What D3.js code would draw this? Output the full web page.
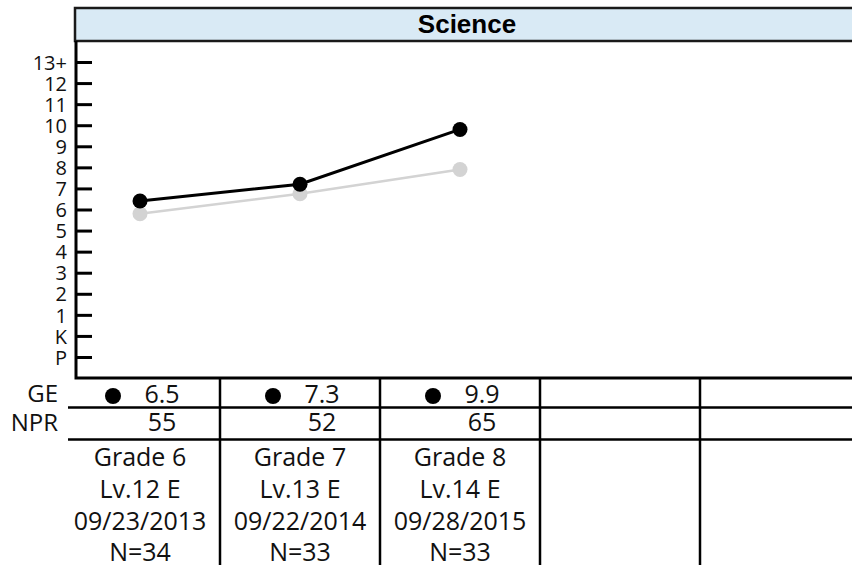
<!DOCTYPE html>
<html>
<head>
    <meta charset="utf-8" />
    <title>Science</title>
    <style>
        body { margin: 0; background: #ffffff; }
        svg { display: block; }
        .lbl { font-family: 'Open Sans', sans-serif; fill: #111111; }
        .ticks text { font-family: 'Open Sans', sans-serif; font-size: 20px; fill: #111111; }
        .ticks line { stroke: #000000; stroke-width: 3px; }
        .rule { stroke: #000000; stroke-width: 2.5px; }
    </style>
    <script src="https://cdn.jsdelivr.net/npm/d3@7"></script>
</head>
<body>
    <svg width="852" height="565"></svg>

    <script>
        var title = 'Science';
        var yTickValues = [-1, 0, 1, 2, 3, 4, 5, 6, 7, 8, 9, 10, 11, 12, 13];
        var yTickLabels = ['P', 'K', '1', '2', '3', '4', '5', '6', '7', '8', '9', '10', '11', '12', '13+'];

        var columns = [0, 1, 2, 3, 4];
        var studentGE = [6.4, 7.2, 9.8];     // black line
        var nationalGE = [5.8, 6.75, 7.9];   // grey line
        var geLabels = ['6.5', '7.3', '9.9'];
        var nprLabels = ['55', '52', '65'];
        var grades = ['Grade 6', 'Grade 7', 'Grade 8'];
        var levels = ['Lv.12 E', 'Lv.13 E', 'Lv.14 E'];
        var dates = ['09/23/2013', '09/22/2014', '09/28/2015'];
        var counts = ['N=34', 'N=33', 'N=33'];

        var svg = d3.select('svg');

        var x = d3.scaleBand().domain(columns).range([60, 860]);
        var cx = function(i) { return x(i) + x.bandwidth() / 2; };
        var y = d3.scaleLinear().domain([-1, 13]).range([357, 62]);

        var plotLeft = 76, plotTop = 41, plotBottom = 378;

        // header
        svg.append('rect')
            .attr('x', 75).attr('y', 8)
            .attr('width', 800).attr('height', 33)
            .attr('fill', '#d9eaf5')
            .attr('stroke', '#1a1a1a').attr('stroke-width', 2.5);
        svg.append('text')
            .attr('x', 467).attr('y', 33)
            .attr('text-anchor', 'middle')
            .style('font-family', "'Liberation Sans', Arial, sans-serif")
            .style('font-weight', 'bold').style('font-size', '26px')
            .text(title);

        // y axis
        var yAxis = d3.axisLeft(y)
            .tickValues(yTickValues)
            .tickFormat(function(d, i) { return yTickLabels[i]; })
            .tickSize(-16)
            .tickSizeOuter(0)
            .tickPadding(9);

        var axisG = svg.append('g')
            .attr('class', 'ticks')
            .attr('transform', 'translate(' + plotLeft + ',0)')
            .call(yAxis);
        axisG.select('.domain').remove();
        axisG.selectAll('text').attr('dy', '0.36em');

        // plot frame (left + bottom)
        svg.append('path')
            .attr('d', 'M' + plotLeft + ',' + plotTop + 'V' + plotBottom + 'H860')
            .attr('fill', 'none')
            .attr('stroke', '#000').attr('stroke-width', 3);

        // lines
        var line = d3.line()
            .x(function(d, i) { return cx(i); })
            .y(function(d) { return y(d); });

        svg.append('path').datum(nationalGE)
            .attr('d', line)
            .attr('fill', 'none').attr('stroke', '#d3d3d3').attr('stroke-width', 2.5);
        svg.selectAll('.natdot').data(nationalGE).enter().append('circle')
            .attr('class', 'natdot')
            .attr('cx', function(d, i) { return cx(i); })
            .attr('cy', y).attr('r', 7.5)
            .attr('fill', '#d3d3d3');

        svg.append('path').datum(studentGE)
            .attr('d', line)
            .attr('fill', 'none').attr('stroke', '#000').attr('stroke-width', 3);
        svg.selectAll('.studot').data(studentGE).enter().append('circle')
            .attr('class', 'studot')
            .attr('cx', function(d, i) { return cx(i); })
            .attr('cy', y).attr('r', 7.5)
            .attr('fill', '#000');

        // table rules
        [407.5, 439.5].forEach(function(yy) {
            svg.append('line').attr('class', 'rule')
                .attr('x1', 68).attr('x2', 860)
                .attr('y1', yy).attr('y2', yy);
        });
        svg.selectAll('.vrule').data(columns.slice(1)).enter().append('line')
            .attr('class', 'rule vrule')
            .attr('x1', function(d) { return x(d); })
            .attr('x2', function(d) { return x(d); })
            .attr('y1', plotBottom - 1).attr('y2', 565);

        // row labels
        svg.append('text').attr('class', 'lbl')
            .attr('x', 58).attr('y', 402).attr('text-anchor', 'end')
            .style('font-size', '24px').text('GE');
        svg.append('text').attr('class', 'lbl')
            .attr('x', 58).attr('y', 431).attr('text-anchor', 'end')
            .style('font-size', '24px').text('NPR');

        // GE row
        svg.selectAll('.gedot').data(geLabels).enter().append('circle')
            .attr('class', 'gedot')
            .attr('cx', function(d, i) { return cx(i) - 27; })
            .attr('cy', 396).attr('r', 8)
            .attr('fill', '#000');
        svg.selectAll('.geval').data(geLabels).enter().append('text')
            .attr('class', 'lbl geval')
            .attr('x', function(d, i) { return cx(i) + 22; })
            .attr('y', 403).attr('text-anchor', 'middle')
            .style('font-size', '25px')
            .text(function(d) { return d; });

        // NPR row
        svg.selectAll('.npr').data(nprLabels).enter().append('text')
            .attr('class', 'lbl npr')
            .attr('x', function(d, i) { return cx(i) + 22; })
            .attr('y', 431).attr('text-anchor', 'middle')
            .style('font-size', '25px')
            .text(function(d) { return d; });

        // test info
        var info = [grades, levels, dates, counts];
        var baselines = [466, 498, 530, 561];
        info.forEach(function(arr, r) {
            svg.selectAll('.info' + r).data(arr).enter().append('text')
                .attr('class', 'lbl info' + r)
                .attr('x', function(d, i) { return cx(i); })
                .attr('y', baselines[r]).attr('text-anchor', 'middle')
                .style('font-size', '25px')
                .text(function(d) { return d; });
        });
    </script>
</body>
</html>
